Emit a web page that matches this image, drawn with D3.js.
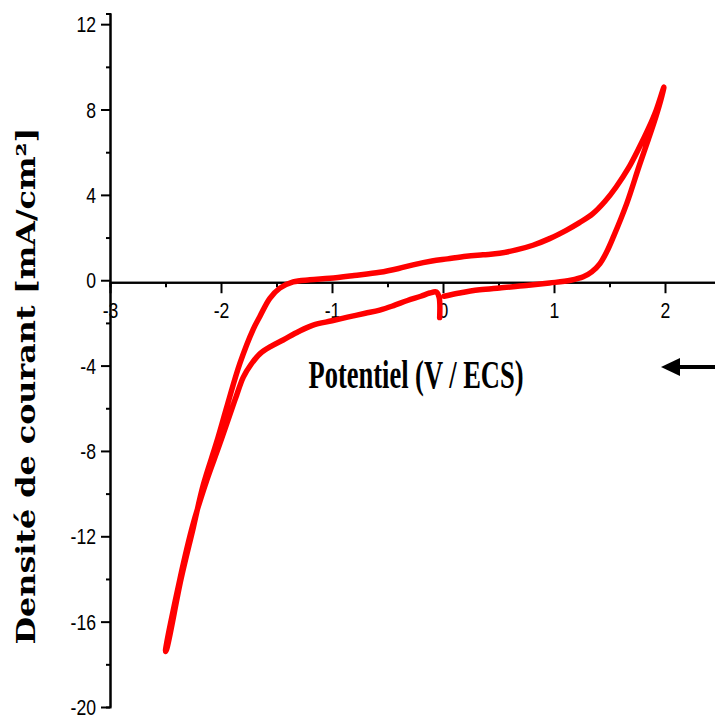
<!DOCTYPE html>
<html>
<head>
<meta charset="utf-8">
<script src="https://cdn.jsdelivr.net/npm/d3@7"></script>
<style>
  body { margin: 0; background: #fff; }
  .tick text { font-family: "Liberation Sans Narrow", "Arial Narrow", "Liberation Sans", sans-serif; font-size: 22px; fill: #000; }
  .domain, .tick line { stroke: #000; stroke-width: 2; }
</style>
</head>
<body>
<svg id="chart" width="715" height="716"></svg>
<script>
// cyclic voltammogram
// initial hook, then cathodic scan towards -2.5 V
const potential = [
  -0.03, -0.035, -0.06, -0.12, -0.2, -0.32, -0.45, -0.57, -0.7, -0.86, -1.0, -1.17, -1.3, -1.44, -1.55, -1.65,
  -1.73, -1.8, -1.86, -1.92, -2.02, -2.13, -2.25, -2.37, -2.5,
  // return, anodic scan up to +2 V
  -2.49, -2.36, -2.25, -2.16, -2.04, -1.94, -1.83, -1.71, -1.65, -1.56, -1.47, -1.35, -1.2, -1.02, -0.8, -0.57,
  -0.4, -0.27, -0.1, 0.04, 0.21, 0.36, 0.51, 0.66, 0.81, 0.96, 1.11, 1.23, 1.35, 1.46, 1.56, 1.67, 1.77, 1.85, 1.92, 1.99,
  // back towards 0 V
  1.97, 1.92, 1.85, 1.77, 1.655, 1.535, 1.475, 1.414, 1.34, 1.264, 1.15, 0.96, 0.75, 0.51, 0.33, 0.15, 0.01
];
const current = [
  -1.75, -0.8, -0.55, -0.6, -0.75, -0.95, -1.2, -1.4, -1.55, -1.73, -1.9, -2.1, -2.4, -2.8, -3.1, -3.45,
  -3.95, -4.55, -5.4, -6.3, -7.8, -9.4, -11.4, -14.0, -17.4,
  -17.3, -14.0, -11.6, -9.6, -7.6, -5.8, -3.9, -2.3, -1.7, -0.85, -0.37, -0.08, 0.02, 0.09, 0.22, 0.37,
  0.55, 0.72, 0.9, 1.0, 1.12, 1.19, 1.26, 1.42, 1.64, 1.95, 2.34, 2.7, 3.12, 3.7, 4.37, 5.25, 6.24, 7.1, 7.96, 9.05,
  8.6, 7.7, 6.6, 5.4, 3.59, 2.03, 1.33, 0.78, 0.39, 0.16, 0.0, -0.13, -0.25, -0.36, -0.45, -0.6, -0.75
];

const xMajor = [-3, -2, -1, 0, 1, 2];
const xMinor = [-2.5, -1.5, -0.5, 0.5, 1.5, 2.5];
const yMajor = [-20, -16, -12, -8, -4, 0, 4, 8, 12];
const yMinor = [-18, -14, -10, -6, -2, 2, 6, 10];

const svg = d3.select("#chart");

const x = d3.scaleLinear().domain([-3, 2.5]).range([110, 720.5]);
const y = d3.scaleLinear().domain([-20, 12.5]).range([707, 13.5]);

const narrow = 0.8; // squeeze the tick labels, no narrow font here
const plain = (d) => String(d); // hyphen minus like the original

//y axis, minor ticks first then labelled major ticks
svg.append("g")
  .attr("transform", `translate(${x(-3)},0)`)
  .call(d3.axisLeft(y).tickValues(yMinor).tickSize(4).tickFormat(""));
svg.append("g")
  .attr("transform", `translate(${x(-3)},0)`)
  .call(d3.axisLeft(y).tickValues(yMajor).tickSize(9).tickSizeOuter(0).tickFormat(plain))
  .call((g) => g.selectAll(".tick text")
    .attr("x", -14 / narrow)
    .attr("dy", "0.34em")
    .attr("transform", `scale(${narrow},1)`));

//x axis crossing at zero
const x0 = y(0) + 2;
svg.append("g")
  .attr("transform", `translate(0,${x0})`)
  .call(d3.axisBottom(x).tickValues(xMinor).tickSize(5).tickFormat(""));
svg.append("g")
  .attr("transform", `translate(0,${x0})`)
  .call(d3.axisBottom(x).tickValues(xMajor).tickSize(11).tickSizeOuter(0).tickPadding(15).tickFormat(plain))
  .call((g) => g.selectAll(".tick text")
    .attr("dy", "0.45em")
    .attr("transform", `scale(${narrow},1)`));

// the curve
const pts = potential.map((v, i) => [v, current[i]]);
const line = d3.line()
  .x((d) => x(d[0]))
  .y((d) => y(d[1]))
  .curve(d3.curveCatmullRom.alpha(0.5));

svg.append("path")
  .datum(pts)
  .attr("d", line)
  .attr("fill", "none")
  .attr("stroke", "#ff0000")
  .attr("stroke-width", 5.5)
  .attr("stroke-linejoin", "round")
  .attr("stroke-linecap", "round");

// axis titles
svg.append("text")
  .attr("x", 416)
  .attr("y", 388)
  .attr("text-anchor", "middle")
  .attr("textLength", 215)
  .attr("lengthAdjust", "spacingAndGlyphs")
  .style("font-family", "'Liberation Serif','Times New Roman',serif")
  .style("font-weight", "bold")
  .style("font-size", "40px")
  .text("Potentiel (V / ECS)");

svg.append("text")
  .attr("transform", "translate(35,386) rotate(-90)")
  .attr("text-anchor", "middle")
  .attr("textLength", 517)
  .attr("lengthAdjust", "spacingAndGlyphs")
  .style("font-family", "'DejaVu Serif',serif")
  .style("font-weight", "bold")
  .style("font-size", "26px")
  .text("Densité de courant [mA/cm²]");

// scan direction arrow
svg.append("line")
  .attr("x1", 676).attr("y1", 367)
  .attr("x2", 715).attr("y2", 367)
  .attr("stroke", "#000")
  .attr("stroke-width", 4);
svg.append("path")
  .attr("d", "M661,367 L680,358 L680,376 Z")
  .attr("fill", "#000");
</script>
</body>
</html>
